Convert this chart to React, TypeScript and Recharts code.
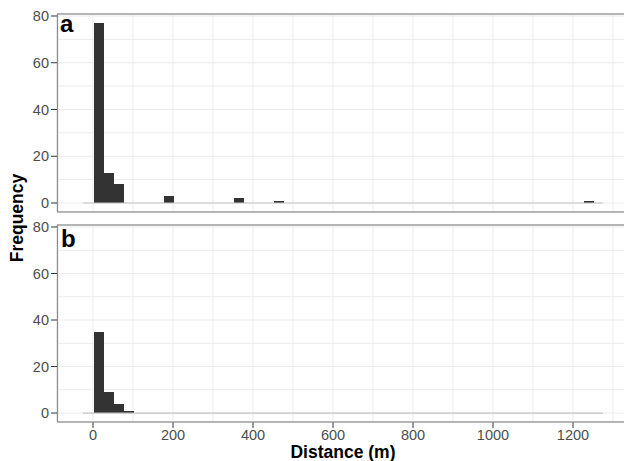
import React from 'react';
import {
  ComposedChart,
  Bar,
  XAxis,
  YAxis,
  CartesianGrid,
  ReferenceLine,
  Label,
} from 'recharts';

// histogram bins (centre of 25 m bins) and counts
const BIN_WIDTH = 25;
const BIN_RANGE = [-25, 1275];
const panelACenters = [12.5, 37.5, 62.5, 187.5, 362.5, 462.5, 1237.5];
const panelACounts = [77, 13, 8, 3, 2, 1, 1];
const panelBCenters = [12.5, 37.5, 62.5, 87.5];
const panelBCounts = [35, 9, 4, 1];

const X_DOMAIN = [-90, 1340];
const Y_DOMAIN = [-3.85, 80.85];
const xTicks = [0, 200, 400, 600, 800, 1000, 1200];
const xGridTicks = [0, 100, 200, 300, 400, 500, 600, 700, 800, 900, 1000, 1100, 1200, 1300];
const yTicks = [0, 20, 40, 60, 80];
const yGridTicks = [0, 10, 20, 30, 40, 50, 60, 70, 80];

const CHART_W = 640;
const PLOT_LEFT = 57;
const PLOT_W = 572;
const FONT = '"Liberation Sans", Arial, Helvetica, sans-serif';
const BAR_SIZE = (BIN_WIDTH * PLOT_W) / (X_DOMAIN[1] - X_DOMAIN[0]);

const panelAData = panelACenters.map((x, i) => ({ x, count: panelACounts[i] }));
const panelBData = panelBCenters.map((x, i) => ({ x, count: panelBCounts[i] }));

const tickStyle = { fill: '#4d4d4d', fontSize: 14.5, fontFamily: FONT };

// full-width bin: keep the centre recharts gives, use the exact bin width
const BinShape = (props: any) => {
  const { x, y, width, height } = props;
  if (!height) return null;
  const cx = x + width / 2;
  return (
    <rect
      x={cx - BAR_SIZE / 2}
      y={y}
      width={BAR_SIZE}
      height={height}
      fill="#333333"
      shapeRendering="crispEdges"
    />
  );
};

function Panel({ data, height, top, showX }: { data: { x: number; count: number }[]; height: number; top: number; showX: boolean }) {
  return (
    <ComposedChart
      width={CHART_W}
      height={height}
      data={data}
      margin={{ top, right: CHART_W - PLOT_LEFT - PLOT_W, bottom: 0, left: 0 }}
    >
      <XAxis xAxisId="grid" dataKey="x" type="number" domain={X_DOMAIN} ticks={xGridTicks} allowDataOverflow hide />
      <YAxis yAxisId="grid" type="number" domain={Y_DOMAIN} ticks={yGridTicks} allowDataOverflow hide />
      <CartesianGrid xAxisId="grid" yAxisId="grid" stroke="#ebebeb" strokeWidth={1} />
      <XAxis
        dataKey="x"
        type="number"
        domain={X_DOMAIN}
        ticks={xTicks}
        allowDataOverflow
        hide={!showX}
        height={39}
        axisLine={false}
        tickSize={6}
        tickLine={{ stroke: '#333333' }}
        tick={tickStyle}
      >
        {showX && (
          <Label
            value="Distance (m)"
            position="insideBottom"
            offset={3}
            style={{ fill: '#000', fontSize: 17.5, fontWeight: 'bold', fontFamily: FONT }}
          />
        )}
      </XAxis>
      <YAxis
        type="number"
        domain={Y_DOMAIN}
        ticks={yTicks}
        allowDataOverflow
        width={PLOT_LEFT}
        axisLine={false}
        tickSize={6}
        tickLine={{ stroke: '#333333' }}
        tick={tickStyle}
      />
      <ReferenceLine
        segment={[{ x: BIN_RANGE[0], y: 0 }, { x: BIN_RANGE[1], y: 0 }]}
        stroke="#c4c4c4"
        strokeWidth={1.2}
      />
      <Bar dataKey="count" fill="#333333" barSize={BAR_SIZE} shape={BinShape} isAnimationActive={false} />
    </ComposedChart>
  );
}

export default function App() {
  return (
    <div
      style={{
        position: 'absolute',
        left: 0,
        top: 0,
        width: 624,
        height: 461,
        overflow: 'hidden',
        background: '#fff',
        fontFamily: FONT,
      }}
    >
      <div style={{ position: 'absolute', left: 0, top: 0 }}>
        <Panel data={panelAData} height={212} top={14} showX={false} />
      </div>
      <div style={{ position: 'absolute', left: 0, top: 212 }}>
        <Panel data={panelBData} height={249} top={13} showX />
      </div>
      <svg
        width={624}
        height={461}
        style={{ position: 'absolute', left: 0, top: 0, pointerEvents: 'none' }}
      >
        <rect x={PLOT_LEFT + 0.5} y={14} width={PLOT_W} height={198} fill="none" stroke="#8a8a8a" strokeWidth={1.2} />
        <rect x={PLOT_LEFT + 0.5} y={225} width={PLOT_W} height={197} fill="none" stroke="#8a8a8a" strokeWidth={1.2} />
        <text x={60} y={32} fontSize={24} fontWeight="bold" fontFamily={FONT} fill="#000">a</text>
        <text x={61} y={247} fontSize={24} fontWeight="bold" fontFamily={FONT} fill="#000">b</text>
        <text
          x={22.5}
          y={218}
          transform="rotate(-90 22.5 218)"
          textAnchor="middle"
          fontSize={17.5}
          fontWeight="bold"
          fontFamily={FONT}
          fill="#000"
        >
          Frequency
        </text>
      </svg>
    </div>
  );
}
